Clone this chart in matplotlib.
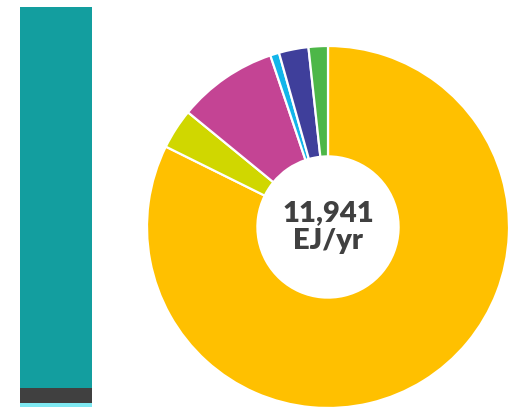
import matplotlib.pyplot as plt

# donut: share of primary energy (EJ/yr), clockwise from 12 o'clock
donut_labels = ["orange", "yellowgreen", "magenta", "lightblue", "darkblue", "green"]
donut_values = [9830, 430, 1065, 95, 315, 206]
donut_colors = ["#FFC000", "#D0D700", "#C44494", "#12B5EA", "#3F3F9B", "#4DB748"]
center_text = "11,941\nEJ/yr"

# left stacked bar, bottom to top
bar_parts = [1.0, 3.8, 95.2]
bar_colors = ["#7FE9F2", "#404040", "#139E9F"]

fig = plt.figure(figsize=(5.1, 4.07), dpi=100)

# stacked bar
axb = fig.add_axes([20 / 510, 0, 72 / 510, 400 / 407])
bottom = 0
for v, c in zip(bar_parts, bar_colors):
    axb.bar(0, v, width=1.0, bottom=bottom, color=c)
    bottom += v
axb.set_xlim(-0.5, 0.5)
axb.set_ylim(0, sum(bar_parts))
axb.axis("off")

# donut
r = 181
axd = fig.add_axes([(328 - r) / 510, (407 - 227 - r) / 407, 2 * r / 510, 2 * r / 407])
axd.pie(donut_values, colors=donut_colors, startangle=90, counterclock=False,
        radius=1.0, wedgeprops=dict(width=0.61, edgecolor="white", linewidth=1.6))
axd.set_xlim(-1, 1)
axd.set_ylim(-1, 1)
axd.text(0, 0.0, center_text, ha="center", va="center", fontsize=21,
         fontweight="heavy", color="#404040", family="Lato", linespacing=1.08)
axd.axis("off")

fig.savefig("out.png", dpi=100)
